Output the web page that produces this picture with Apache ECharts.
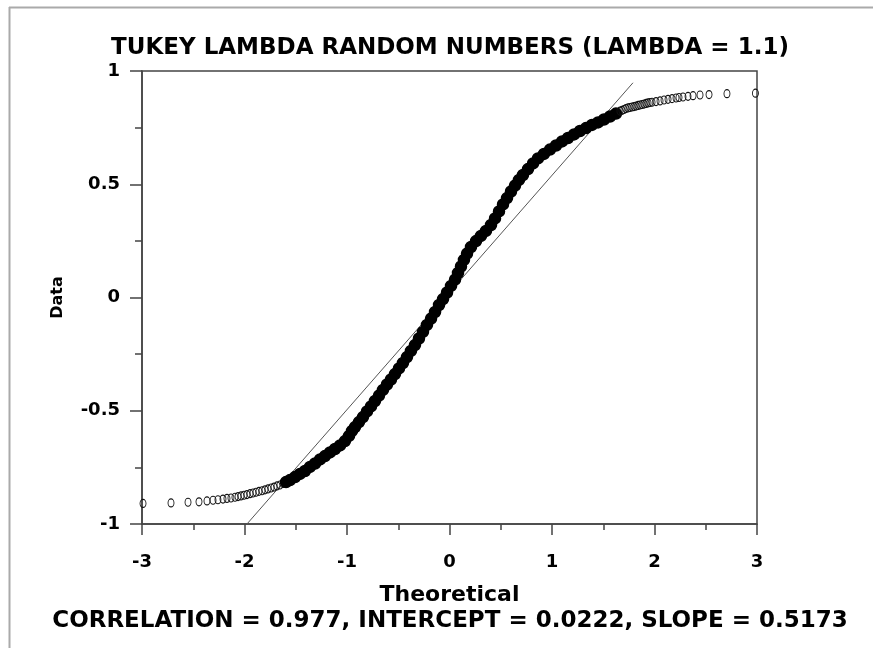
<!DOCTYPE html>
<html><head><meta charset="utf-8">
<script src="https://cdn.jsdelivr.net/npm/echarts@6/dist/echarts.min.js"></script>
<style>html,body{margin:0;padding:0;background:#fff}#c{width:873px;height:648px}</style>
</head><body><div id="c"></div>
<script>
const titleText = 'TUKEY LAMBDA RANDOM NUMBERS (LAMBDA = 1.1)';
const footerText = 'CORRELATION = 0.977, INTERCEPT = 0.0222, SLOPE = 0.5173';
const xAxisName = 'Theoretical';
const yAxisName = 'Data';
const xRange = [-3, 3];
const yRange = [-1, 1];

// lower tail (distinct open symbols)
const lowTailX = [-2.990,-2.717,-2.551,-2.444,-2.366,-2.307,-2.259,-2.210,-2.171,-2.132,-2.093,-2.063,-2.034,-2.005,-1.976,-1.946,-1.917,-1.888,-1.859,-1.829,-1.800,-1.771,-1.741,-1.712,-1.683,-1.654,-1.624];
const lowTailY = [-0.909,-0.907,-0.904,-0.902,-0.898,-0.895,-0.893,-0.890,-0.887,-0.885,-0.882,-0.879,-0.876,-0.873,-0.870,-0.866,-0.863,-0.860,-0.856,-0.853,-0.849,-0.845,-0.841,-0.837,-0.832,-0.828,-0.821];

// dense central band (symbols overlap into a solid band)
const bandX = [-1.595,-1.556,-1.507,-1.459,-1.410,-1.361,-1.312,-1.263,-1.215,-1.166,-1.117,-1.068,-1.020,-0.980,-0.951,-0.922,-0.883,-0.844,-0.805,-0.766,-0.727,-0.688,-0.649,-0.610,-0.571,-0.532,-0.493,-0.454,-0.415,-0.376,-0.337,-0.298,-0.259,-0.220,-0.180,-0.141,-0.102,-0.063,-0.024,0.015,0.054,0.083,0.112,0.141,0.171,0.210,0.259,0.307,0.356,0.405,0.444,0.483,0.522,0.561,0.600,0.639,0.678,0.717,0.766,0.815,0.863,0.922,0.980,1.039,1.098,1.156,1.215,1.273,1.332,1.390,1.449,1.507,1.566,1.624];
const bandY = [-0.815,-0.806,-0.793,-0.779,-0.766,-0.748,-0.733,-0.715,-0.700,-0.684,-0.669,-0.653,-0.634,-0.611,-0.589,-0.572,-0.550,-0.528,-0.503,-0.481,-0.457,-0.433,-0.408,-0.384,-0.362,-0.338,-0.313,-0.289,-0.263,-0.236,-0.210,-0.181,-0.152,-0.121,-0.093,-0.064,-0.033,-0.007,0.022,0.051,0.079,0.108,0.137,0.166,0.194,0.223,0.249,0.272,0.294,0.320,0.349,0.380,0.411,0.439,0.468,0.494,0.519,0.541,0.567,0.592,0.614,0.634,0.653,0.671,0.689,0.704,0.720,0.735,0.748,0.762,0.773,0.786,0.799,0.812];

// upper tail (distinct open symbols)
const highTailX = [1.663,1.682,1.702,1.721,1.741,1.760,1.780,1.800,1.820,1.840,1.859,1.878,1.898,1.918,1.937,1.956,1.976,2.015,2.054,2.093,2.132,2.171,2.210,2.239,2.278,2.327,2.376,2.444,2.532,2.707,2.985];
const highTailY = [0.823,0.826,0.830,0.834,0.837,0.839,0.841,0.843,0.845,0.848,0.850,0.852,0.854,0.857,0.859,0.861,0.862,0.865,0.868,0.872,0.875,0.878,0.881,0.883,0.885,0.888,0.891,0.894,0.896,0.900,0.902];

// fitted reference line end points
const fitLineX = [-1.976, 1.790];
const fitLineY = [-1.000, 0.948];

const zip = (a, b) => a.map((v, i) => [v, b[i]]);
const FONT = 'DejaVu Sans';

const chart = echarts.init(document.getElementById('c'), null, {renderer: 'canvas'});
const ring = {color: 'rgba(0,0,0,0)', borderColor: '#111', borderWidth: 1, opacity: 1};
chart.setOption({
  animation: false,
  backgroundColor: '#fff',
  grid: {left: 142, right: 116, top: 71, bottom: 124, show: true, borderColor: '#444', borderWidth: 1.5, backgroundColor: 'transparent'},
  xAxis: {
    type: 'value', min: xRange[0], max: xRange[1], interval: 1,
    name: xAxisName, nameLocation: 'middle', nameGap: 60,
    nameTextStyle: {fontFamily: FONT, fontWeight: 'bold', fontSize: 22, color: '#000'},
    axisLine: {onZero: false, lineStyle: {color: '#444', width: 1.5}},
    axisTick: {show: true, inside: false, length: 11, lineStyle: {color: '#444', width: 1.5}},
    minorTick: {show: true, splitNumber: 2, length: 6, lineStyle: {color: '#444', width: 1.5}},
    splitLine: {show: false},
    axisLabel: {fontFamily: FONT, fontWeight: 'bold', fontSize: 18, color: '#000', margin: 29}
  },
  yAxis: {
    type: 'value', min: yRange[0], max: yRange[1], interval: 0.5,
    name: yAxisName, nameLocation: 'middle', nameGap: 76, nameRotate: 90,
    nameTextStyle: {fontFamily: FONT, fontWeight: 'bold', fontSize: 16, color: '#000'},
    axisLine: {onZero: false, lineStyle: {color: '#444', width: 1.5}},
    axisTick: {show: true, inside: false, length: 12, lineStyle: {color: '#444', width: 1.5}},
    minorTick: {show: true, splitNumber: 2, length: 7, lineStyle: {color: '#444', width: 1.5}},
    splitLine: {show: false},
    axisLabel: {fontFamily: FONT, fontWeight: 'bold', fontSize: 18, color: '#000', margin: 22}
  },
  series: [
    {type: 'line', data: zip(fitLineX, fitLineY), symbol: 'none', silent: true,
     lineStyle: {color: '#555', width: 1}, z: 1},
    {type: 'scatter', data: zip(lowTailX, lowTailY), symbol: 'circle', symbolSize: [6, 8], itemStyle: ring, emphasis: {disabled: true}, z: 2},
    {type: 'scatter', data: zip(bandX, bandY), symbol: 'circle', symbolSize: 11,
     itemStyle: {color: 'rgb(0,0,0)', opacity: 1, borderColor: 'rgb(0,0,0)', borderWidth: 1.5}, emphasis: {disabled: true}, z: 2},
    {type: 'scatter', data: zip(highTailX, highTailY), symbol: 'circle', symbolSize: [6, 8], itemStyle: ring, emphasis: {disabled: true}, z: 2}
  ],
  graphic: [
    {type: 'line', shape: {x1: 9, y1: 7.5, x2: 873, y2: 7.5}, style: {stroke: '#aaa', lineWidth: 2}, silent: true},
    {type: 'line', shape: {x1: 9.5, y1: 7, x2: 9.5, y2: 648}, style: {stroke: '#aaa', lineWidth: 2}, silent: true},
    {type: 'text', x: 450, y: 48, style: {text: titleText, fontFamily: FONT, fontWeight: 'bold', fontSize: 23, fill: '#000', textAlign: 'center', textVerticalAlign: 'middle'}},
    {type: 'text', x: 450, y: 621, style: {text: footerText, fontFamily: FONT, fontWeight: 'bold', fontSize: 23, fill: '#000', textAlign: 'center', textVerticalAlign: 'middle'}}
  ]
});
</script></body></html>
